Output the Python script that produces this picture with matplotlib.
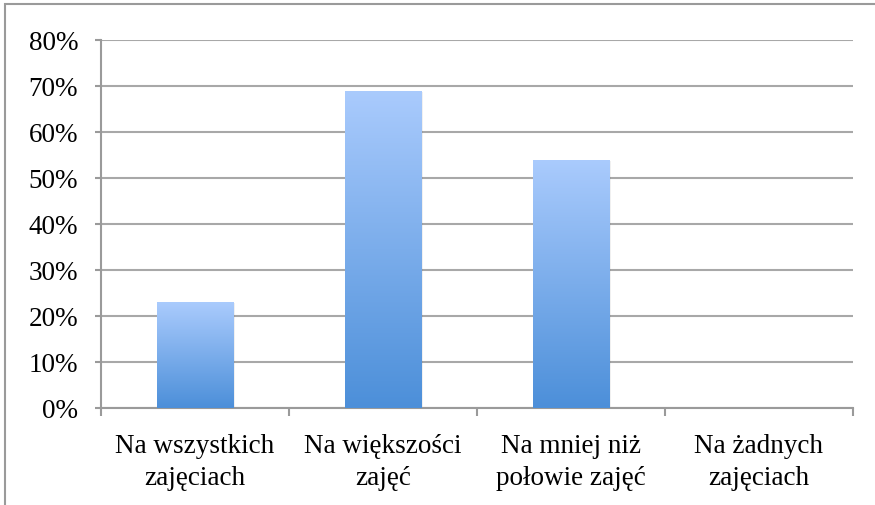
import numpy as np
import matplotlib.pyplot as plt
from matplotlib.patches import Rectangle

kategorie = ['Na wszystkich\nzajęciach', 'Na większości\nzajęć',
             'Na mniej niż\npołowie zajęć', 'Na żadnych\nzajęciach']
wartosci = [23, 69, 54, 0]
yticks = [0, 10, 20, 30, 40, 50, 60, 70, 80]

plt.rcParams['font.family'] = ['Liberation Serif', 'DejaVu Serif']

fig = plt.figure(figsize=(8.75, 5.06), dpi=100)
ax = fig.add_axes([101 / 875, 1 - 409 / 506, 752 / 875, 368 / 506])

# ramka wokol wykresu (przycieta)
fig.patches.append(Rectangle((4.5 / 875, -0.1), 1.2, 1 - 5 / 506 + 0.1,
                             transform=fig.transFigure, fill=False,
                             edgecolor='#9a9a9a', linewidth=1.5, zorder=0))

x = np.arange(len(kategorie))
bary = ax.bar(x, wartosci, width=0.405, color='none', edgecolor='none', zorder=3)

# gradient w slupkach
grad = np.linspace(0, 1, 256).reshape(-1, 1)
cmap = plt.matplotlib.colors.LinearSegmentedColormap.from_list('b', ['#4c8fd9', '#aacbfd'])
for b in bary:
    if b.get_height() <= 0:
        continue
    x0, w, h = b.get_x(), b.get_width(), b.get_height()
    # delikatny cien
    ax.add_patch(Rectangle((x0 + 0.008, -0.3), w, h + 0.1, facecolor='#000000',
                           alpha=0.06, edgecolor='none', zorder=2))
    im = ax.imshow(grad, extent=(x0, x0 + w, 0, h), origin='lower', cmap=cmap,
                   aspect='auto', zorder=3)
    im.set_clip_path(b)

ax.set_xlim(-0.5, 3.5)
ax.set_ylim(0, 80)
ax.set_yticks(yticks)
ax.set_yticklabels([f'{v}%' for v in yticks], fontsize=19.5)
ax.set_xticks(x)
ax.set_xticklabels(kategorie, fontsize=19.5, linespacing=1.35)
ax.set_xticks(np.arange(-0.5, 4, 1), minor=True)
ax.tick_params(axis='x', which='major', length=0, pad=18)
ax.tick_params(axis='x', which='minor', length=6, width=1.5, color='#9a9a9a')
ax.tick_params(axis='y', length=4.5, width=1.5, color='#9a9a9a', pad=12)

ax.yaxis.grid(True, color='#a8a8a8', linewidth=1.5, zorder=0)
ax.set_axisbelow(True)
for s in ['top', 'right']:
    ax.spines[s].set_visible(False)
ax.spines['left'].set_color('#9a9a9a')
ax.spines['left'].set_linewidth(1.5)
ax.spines['bottom'].set_color('#9a9a9a')
ax.spines['bottom'].set_linewidth(1.5)

fig.savefig('out.png', dpi=100)
